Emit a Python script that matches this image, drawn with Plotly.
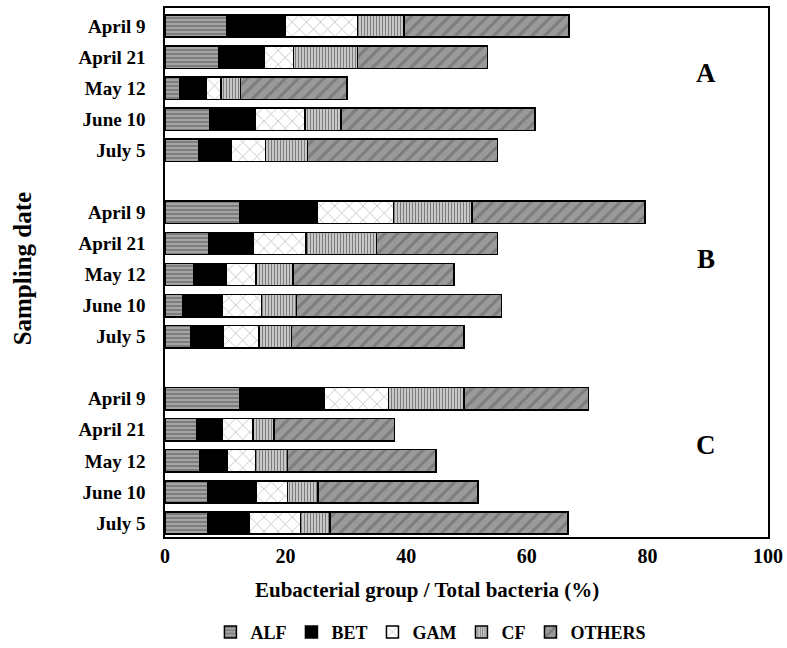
import plotly.graph_objects as go

dates = ["April 9", "April 21", "May 12", "June 10", "July 5"]
groups = ["A", "B", "C"]
series = ["ALF", "BET", "GAM", "CF", "OTHERS"]

# values per bar, order: group A dates, group B dates, group C dates
ALF = [10.2, 8.9, 2.5, 7.4, 5.6,
       12.4, 7.3, 4.7, 2.9, 4.2,
       12.4, 5.3, 5.7, 7.1, 7.1]
BET = [9.7, 7.5, 4.4, 7.5, 5.4,
       12.9, 7.4, 5.4, 6.6, 5.5,
       14.0, 4.2, 4.7, 8.0, 6.8]
GAM = [12.0, 4.9, 2.4, 8.3, 5.7,
       12.6, 8.7, 5.0, 6.5, 5.9,
       10.7, 5.1, 4.6, 5.2, 8.6]
CF = [7.7, 10.6, 3.2, 6.0, 6.9,
      13.0, 11.7, 6.1, 5.8, 5.4,
      12.5, 3.5, 5.3, 5.1, 4.9]
OTHERS = [27.4, 21.6, 17.7, 32.2, 31.5,
          28.7, 20.0, 26.7, 34.0, 28.6,
          20.6, 20.0, 24.6, 26.5, 39.4]

xticks = [0, 20, 40, 60, 80, 100]

# positions: each group has 5 dates plus one empty slot between groups
pos = [g * 6 + d for g in range(len(groups)) for d in range(len(dates))]
ticktext = [dates[d] for g in range(len(groups)) for d in range(len(dates))]

values = {"ALF": ALF, "BET": BET, "GAM": GAM, "CF": CF, "OTHERS": OTHERS}
styles = {
    "ALF": dict(color="#a4a4a4", pattern=dict(shape="-", fgcolor="#333333", size=4, solidity=0.35)),
    "BET": dict(color="#000000"),
    "GAM": dict(color="#ffffff", pattern=dict(shape="x", fgcolor="#555555", size=10, solidity=0.12)),
    "CF": dict(color="#d8d8d8", pattern=dict(shape="|", fgcolor="#222222", size=3, solidity=0.45)),
    "OTHERS": dict(color="#9a9a9a", pattern=dict(shape="/", fgcolor="#606060", size=9, solidity=0.35)),
}

font = "Liberation Serif"
fig = go.Figure()
for s in series:
    st = styles[s]
    marker = dict(color=st["color"], line=dict(color="#000000", width=1.5))
    if "pattern" in st:
        marker["pattern"] = st["pattern"]
    fig.add_trace(go.Bar(
        x=values[s], y=pos, orientation="h", name=s, width=0.72,
        marker=marker,
    ))

for g, lab in enumerate(groups):
    fig.add_annotation(x=89.8, y=g * 6 + 1.5, text=lab, showarrow=False,
                       font=dict(family=font, size=27, color="#000", weight="bold"),
                       xref="x", yref="y")

# axis titles
fig.add_annotation(x=0.4345, y=-0.100, xref="paper", yref="paper", showarrow=False,
                   text="Eubacterial group / Total bacteria (%)", xanchor="center", yanchor="middle",
                   font=dict(family=font, size=21, color="#000", weight="bold"))
fig.add_annotation(x=-0.237, y=0.508, xref="paper", yref="paper", showarrow=False,
                   text="Sampling date", textangle=-90, xanchor="center", yanchor="middle",
                   font=dict(family=font, size=25, color="#000", weight="bold"))

fig.update_layout(
    barmode="stack",
    width=787, height=648,
    margin=dict(l=165, r=19, t=8, b=111, autoexpand=False),
    plot_bgcolor="#ffffff", paper_bgcolor="#ffffff",
    font=dict(family=font, color="#000000"),
    showlegend=True,
    legend=dict(orientation="h", x=0.441, xanchor="center", y=-0.18, yanchor="middle",
                font=dict(family=font, size=18, color="#000", weight="bold"), traceorder="normal",
                itemwidth=30, tracegroupgap=0),
)
fig.update_xaxes(
    range=[0, 100], tickvals=xticks, ticktext=[str(v) for v in xticks],
    showgrid=False, zeroline=False, showline=True, linecolor="#000", linewidth=1.5,
    mirror=True, ticks="", automargin=False,
    tickfont=dict(family=font, size=20, color="#000", weight="bold"),
)
fig.update_yaxes(
    range=[16.45, -0.58], tickvals=pos, ticktext=ticktext,
    showgrid=False, zeroline=False, showline=True, linecolor="#000", linewidth=1.5,
    mirror=True, ticks="", ticklabelstandoff=14, automargin=False,
    tickfont=dict(family=font, size=19, color="#000", weight="bold"),
)

fig.write_html("out.html", config={"displayModeBar": False},
               post_script="document.body.style.margin='0';document.body.style.overflow='hidden';")
